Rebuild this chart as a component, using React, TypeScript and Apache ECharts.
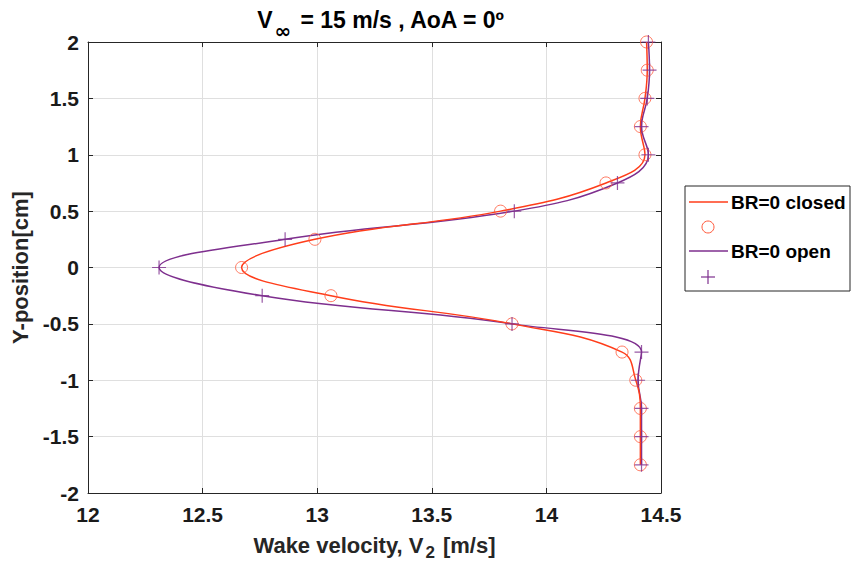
import React, { useEffect, useRef } from "react";
import * as echarts from "echarts";

const yPositions = [2, 1.75, 1.5, 1.25, 1, 0.75, 0.5, 0.25, 0, -0.25, -0.5, -0.75, -1, -1.25, -1.5, -1.75];
const closedVelocity = [14.437, 14.44, 14.43, 14.41, 14.43, 14.26, 13.8, 12.99, 12.67, 13.06, 13.85, 14.33, 14.39, 14.41, 14.41, 14.41];
const openVelocity = [14.445, 14.45, 14.44, 14.415, 14.445, 14.31, 13.86, 12.86, 12.31, 12.76, 13.85, 14.415, 14.4, 14.415, 14.415, 14.415];
const xTicks = { min: 12, max: 14.5, interval: 0.5 };
const yTicks = { min: -2, max: 2, interval: 0.5 };

const RED = "#FF3D1A";
const RED_MARK = "#FF5A3C";
const PURPLE = "#7E2F8E";
const FONT = "'Liberation Sans', Arial, sans-serif";
const PLUS = "path://M5,0L5,10M0,5L10,5";

export default function App() {
  const ref = useRef<HTMLDivElement>(null);
  useEffect(() => {
    if (!ref.current) return;
    const chart = echarts.init(ref.current, undefined, { renderer: "svg" });
    const closed = yPositions.map((y, i) => [closedVelocity[i], y]);
    const open = yPositions.map((y, i) => [openVelocity[i], y]);
    const axisLine = { show: true, onZero: false, lineStyle: { color: "#262626", width: 1 } };
    const tick = { show: true, inside: true, length: 5, lineStyle: { color: "#262626" } };
    const label = { color: "#1a1a1a", fontFamily: FONT, fontWeight: "bold" as const, fontSize: 21 };
    const lx = 689, ly = 202;
    chart.setOption({
      animation: false,
      title: {
        text: "{a|V}{s|∞}{a| = 15 m/s , AoA = 0º}",
        left: 376,
        top: -6,
        textAlign: "center",
        textStyle: {
          rich: {
            a: { fontFamily: FONT, fontWeight: "bold", fontSize: 23, color: "#000" },
            s: { fontFamily: "'DejaVu Sans', sans-serif", fontSize: 20, color: "#000", padding: [22, 2, 0, 2] },
          },
        },
      },
      grid: { left: 88, right: 193, top: 42, bottom: 69, containLabel: false },
      xAxis: [
        {
          type: "value", ...xTicks, position: "bottom",
          axisLine, axisTick: tick,
          axisLabel: { ...label, margin: 11 },
          splitLine: { show: true, lineStyle: { color: "#DFDFDF" } },
          name: "{a|Wake velocity, V}{s|2}{a| [m/s]}",
          nameLocation: "middle",
          nameGap: 37,
          nameTextStyle: {
            rich: {
              a: { fontFamily: FONT, fontWeight: "bold", fontSize: 22, color: "#262626" },
              s: { fontFamily: FONT, fontWeight: "bold", fontSize: 17, color: "#262626", padding: [14, 2, 0, 2] },
            },
          },
        },
        {
          type: "value", ...xTicks, position: "top",
          axisLine, axisTick: tick, axisLabel: { show: false }, splitLine: { show: false },
        },
      ],
      yAxis: [
        {
          type: "value", ...yTicks, position: "left",
          axisLine, axisTick: tick,
          axisLabel: { ...label, margin: 9 },
          splitLine: { show: true, lineStyle: { color: "#DFDFDF" } },
          name: "Y-position[cm]",
          nameLocation: "middle",
          nameGap: 50,
          nameTextStyle: { fontFamily: FONT, fontWeight: "bold", fontSize: 22, color: "#262626" },
        },
        {
          type: "value", ...yTicks, position: "right",
          axisLine, axisTick: tick, axisLabel: { show: false }, splitLine: { show: false },
        },
      ],
      series: [
        {
          name: "BR=0 closed", type: "line", data: closed, smooth: 0.42, showSymbol: false, symbol: "none",
          lineStyle: { color: RED, width: 1.5 }, z: 3,
        },
        {
          name: "closed pts", type: "scatter", data: closed, symbol: "circle", symbolSize: 12,
          itemStyle: { color: "transparent", borderColor: RED_MARK, borderWidth: 1 }, z: 5,
        },
        {
          name: "BR=0 open", type: "line", data: open, smooth: 0.42, showSymbol: false, symbol: "none",
          lineStyle: { color: PURPLE, width: 1.5 }, z: 2,
        },
        {
          name: "open pts", type: "scatter", data: open, symbol: PLUS, symbolSize: 14,
          itemStyle: { color: "transparent", borderColor: PURPLE, borderWidth: 1.2 }, z: 6,
        },
      ],
      graphic: [
        { type: "rect", shape: { x: 685, y: 186, width: 165, height: 105 }, style: { fill: "#fff", stroke: "#262626", lineWidth: 1 } },
        { type: "line", shape: { x1: lx, y1: ly, x2: lx + 39, y2: ly }, style: { stroke: RED, lineWidth: 1.5 } },
        { type: "text", x: lx + 42, y: ly, style: { text: "BR=0 closed", fontFamily: FONT, fontWeight: "bold", fontSize: 19, fill: "#000", verticalAlign: "middle" } },
        { type: "circle", shape: { cx: lx + 19, cy: ly + 25, r: 6 }, style: { fill: "none", stroke: RED_MARK, lineWidth: 1 } },
        { type: "line", shape: { x1: lx, y1: ly + 49, x2: lx + 39, y2: ly + 49 }, style: { stroke: PURPLE, lineWidth: 1.5 } },
        { type: "text", x: lx + 42, y: ly + 49, style: { text: "BR=0 open", fontFamily: FONT, fontWeight: "bold", fontSize: 19, fill: "#000", verticalAlign: "middle" } },
        { type: "line", shape: { x1: lx + 12, y1: ly + 75, x2: lx + 26, y2: ly + 75 }, style: { stroke: PURPLE, lineWidth: 1.2 } },
        { type: "line", shape: { x1: lx + 19, y1: ly + 68, x2: lx + 19, y2: ly + 82 }, style: { stroke: PURPLE, lineWidth: 1.2 } },
      ],
    });
    return () => chart.dispose();
  }, []);
  return <div ref={ref} style={{ width: 854, height: 566, position: "absolute", left: 0, top: 0, background: "#fff" }} />;
}
